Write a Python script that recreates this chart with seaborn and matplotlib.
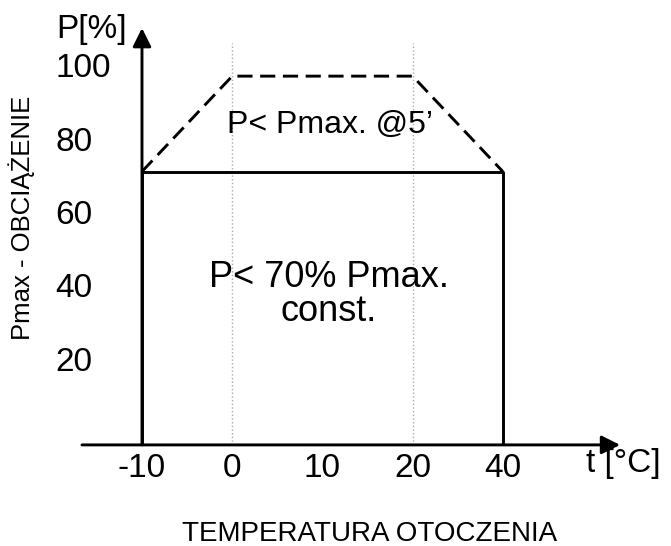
import numpy as np
import pandas as pd
import seaborn as sns
import matplotlib.pyplot as plt

# tick labels on the (unevenly spaced) temperature axis
temp_ticks = [-10, 0, 10, 20, 40]
p_ticks = [20, 40, 60, 80, 100]

# continuous load: P < 70% Pmax
const_t = [-10, 40]
const_p = [71, 71]

# short term load: P < Pmax @5'
short_t = [-10, 0, 20, 40]
short_p = [71, 97, 97, 71]

grid_t = [0, 20]


def tpos(t):
    # the drawing uses equal spacing between tick labels
    return np.interp(t, temp_ticks, np.arange(len(temp_ticks)))


def main():
    sns.set_theme(style="white")
    plt.rcParams['font.family'] = ['Liberation Sans', 'DejaVu Sans']
    plt.rcParams['text.color'] = 'black'
    plt.rcParams['xtick.color'] = 'black'
    plt.rcParams['ytick.color'] = 'black'

    fig = plt.figure(figsize=(6.71, 5.46), dpi=100)
    ax = fig.add_axes([82 / 671, 100 / 546, 548 / 671, 426 / 546])

    axis_y = -3.5
    ax.set_xlim(-0.665, 5.41)
    ax.set_ylim(axis_y - 0.3, 112.3)
    for s in ax.spines.values():
        s.set_visible(False)

    # dotted guide lines
    ax.vlines(tpos(grid_t), axis_y, 106, colors='#aaaaaa', linestyles=':', lw=1)

    const = pd.DataFrame({'x': tpos(const_t), 'p': const_p})
    short = pd.DataFrame({'x': tpos(short_t), 'p': short_p})
    sns.lineplot(data=const, x='x', y='p', color='black', lw=2.1, ax=ax, sort=False)
    ax.vlines(tpos(const_t), axis_y, const_p, colors='black', lw=2.1)
    sns.lineplot(data=short, x='x', y='p', color='black', lw=2.1, ax=ax, sort=False,
                 linestyle=(0, (5.2, 2.6)))

    # axes arrows
    arrow = dict(arrowstyle='-|>', color='black', lw=2.1, mutation_scale=28, shrinkA=0, shrinkB=0)
    ax.annotate('', xy=(5.3, axis_y), xytext=(-0.665, axis_y), arrowprops=arrow)
    ax.annotate('', xy=(0, 110.1), xytext=(0, axis_y), arrowprops=arrow)

    ax.set_xticks(tpos(temp_ticks), [str(t) for t in temp_ticks])
    ax.set_yticks(p_ticks, [str(p) for p in p_ticks])
    ax.tick_params(axis='x', length=0, pad=5, labelsize=24)
    ax.tick_params(axis='y', length=0, pad=19.4, labelsize=24)
    for lab in ax.get_yticklabels():
        lab.set_horizontalalignment('left')
    ax.set_xlabel('')
    ax.set_ylabel('')

    ax.text(-0.554, 109.6, 'P[%]', fontsize=24, ha='center', va='center', clip_on=False)
    ax.text(5.34, -8.7, 't [°C]', fontsize=24, ha='center', va='center', clip_on=False)
    ax.text(2.08, 83.6, 'P< Pmax. @5’', fontsize=23, ha='center', va='center')
    ax.text(2.07, 37.5, 'P< 70% Pmax.\nconst.', fontsize=26, ha='center', va='center',
            linespacing=0.95)

    fig.text(370 / 671, 1 - 534 / 546, 'TEMPERATURA OTOCZENIA', fontsize=20,
             ha='center', va='center')
    fig.text(22 / 671, 1 - 218 / 546, 'Pmax - OBCIĄŻENIE', fontsize=18.5,
             ha='center', va='center', rotation=90)

    fig.savefig('out.png', dpi=100)
    plt.close(fig)


if __name__ == '__main__':
    main()
